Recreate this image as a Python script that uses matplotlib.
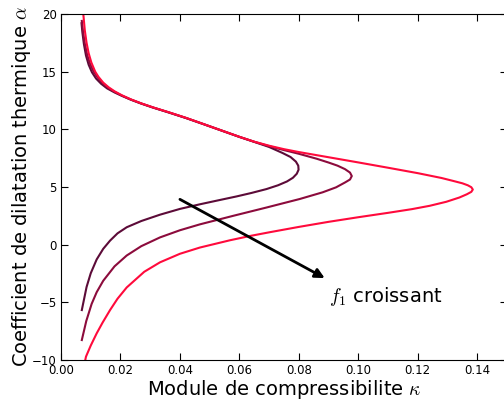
import matplotlib
matplotlib.use("Agg")
import matplotlib.pyplot as plt

plt.rcParams['mathtext.fontset'] = 'cm'
plt.rcParams['font.family'] = ['DejaVu Sans']

# curve 1 (darkest, smallest f1)
kappa_dark = [0.0069, 0.0072, 0.0077, 0.0084, 0.0093, 0.0104, 0.0118, 0.0135, 0.0155,
              0.0180, 0.0205, 0.0235, 0.0270, 0.0310, 0.0360, 0.0420, 0.0480, 0.0540,
              0.0600, 0.0650, 0.0700, 0.0745, 0.0772, 0.0790, 0.0798, 0.0799, 0.0793,
              0.0780, 0.0760, 0.0730, 0.0691, 0.0640, 0.0590, 0.0530, 0.0467, 0.0400,
              0.0333, 0.0270, 0.0221, 0.0190, 0.0165, 0.0142, 0.0120, 0.0100, 0.0086,
              0.0078, 0.0070]
alpha_dark = [19.2, 18.4, 17.4, 16.4, 15.6, 14.95, 14.4, 13.95, 13.55,
              13.2, 12.9, 12.57, 12.23, 11.88, 11.48, 10.98, 10.44, 9.89,
              9.34, 8.91, 8.47, 7.95, 7.6, 7.2, 6.85, 6.5, 6.15,
              5.8, 5.48, 5.15, 4.82, 4.48, 4.18, 3.85, 3.5, 3.1,
              2.6, 2.05, 1.51, 0.98, 0.35, -0.36, -1.28, -2.48, -3.67,
              -4.67, -5.67]

# curve 2 (medium)
kappa_med = [0.0070, 0.0074, 0.0080, 0.0088, 0.0098, 0.0110, 0.0124, 0.0140, 0.0158,
             0.0180, 0.0205, 0.0235, 0.0270, 0.0310, 0.0360, 0.0420, 0.0480, 0.0540,
             0.0600, 0.0650, 0.0700, 0.0750, 0.0800, 0.0860, 0.0900, 0.0930, 0.0955,
             0.0972, 0.0978, 0.0972, 0.0955, 0.0925, 0.0880, 0.0803, 0.0691, 0.0579,
             0.0467, 0.0400, 0.0333, 0.0270, 0.0221, 0.0180, 0.0142, 0.0120, 0.0103,
             0.0085, 0.0070]
alpha_med = [19.4, 18.5, 17.45, 16.45, 15.65, 15.0, 14.47, 14.0, 13.6,
             13.25, 12.92, 12.58, 12.24, 11.89, 11.49, 10.99, 10.45, 9.9,
             9.35, 8.92, 8.54, 8.2, 7.88, 7.45, 7.12, 6.85, 6.55,
             6.25, 5.95, 5.65, 5.39, 4.97, 4.54, 3.96, 3.22, 2.50,
             1.76, 1.25, 0.63, -0.13, -0.94, -1.88, -3.13, -4.12, -5.14,
             -6.62, -8.27]

# curve 3 (red, largest f1)
kappa_red = [0.0073, 0.0075, 0.0080, 0.0086, 0.0093, 0.0102, 0.0115, 0.0126, 0.0142,
             0.0160, 0.0180, 0.0205, 0.0235, 0.0270, 0.0310, 0.0360, 0.0420, 0.0480,
             0.0540, 0.0600, 0.0650, 0.0700, 0.0750, 0.0800, 0.0900, 0.1000, 0.1100,
             0.1200, 0.1280, 0.1320, 0.1350, 0.1368, 0.1380, 0.1385, 0.1380, 0.1365,
             0.1340, 0.1296, 0.1240, 0.1180, 0.1100, 0.1000, 0.0900, 0.0800, 0.0700,
             0.0635, 0.0568, 0.0467, 0.0400, 0.0333, 0.0280, 0.0221, 0.0190, 0.0165,
             0.0140, 0.0120, 0.0100, 0.0084, 0.0080]
alpha_red = [20.6, 20.0, 18.6, 17.5, 16.6, 15.8, 15.0, 14.55, 14.05,
             13.65, 13.3, 12.95, 12.6, 12.25, 11.9, 11.5, 11.0, 10.45,
             9.9, 9.35, 8.93, 8.58, 8.28, 8.03, 7.58, 7.13, 6.67,
             6.2, 5.78, 5.52, 5.32, 5.15, 4.98, 4.78, 4.58, 4.37,
             4.09, 3.72, 3.37, 3.08, 2.76, 2.38, 1.98, 1.54, 1.07,
             0.75, 0.38, -0.25, -0.79, -1.53, -2.35, -3.71, -4.69, -5.67,
             -6.75, -7.69, -8.75, -9.71, -10.2]

x_ticks = [0.00, 0.02, 0.04, 0.06, 0.08, 0.10, 0.12, 0.14]
x_tick_labels = ['0.00', '0.02', '0.04', '0.06', '0.08', '0.10', '0.12', '0.14']
y_ticks = [-10, -5, 0, 5, 10, 15, 20]
y_tick_labels = ['\u221210', '\u22125', '0', '5', '10', '15', '20']

colors = ['#5c0b38', '#8c0b3c', '#ff0a3c']

W, H = 504, 403
fig = plt.figure(figsize=(W / 100, H / 100), dpi=100)
left, right, top, bottom = 61, 507, 14, 360
ax = fig.add_axes([left / W, (H - bottom) / H, (right - left) / W, (bottom - top) / H])

ax.plot(kappa_dark, alpha_dark, color=colors[0], lw=1.5)
ax.plot(kappa_med, alpha_med, color=colors[1], lw=1.5)
ax.plot(kappa_red, alpha_red, color=colors[2], lw=1.5)

ax.set_xlim(0, 0.15)
ax.set_ylim(-10, 20)
ax.set_xticks(x_ticks)
ax.set_xticklabels(x_tick_labels)
ax.set_yticks(y_ticks)
ax.set_yticklabels(y_tick_labels)
ax.tick_params(direction='in', top=True, right=True, length=5, labelsize=8.5, pad=3)

ax.set_xlabel(r'Module de compressibilite $\kappa$', fontsize=14, labelpad=0.5)
ax.set_ylabel(r'Coefficient de dilatation thermique $\alpha$', fontsize=14, labelpad=-1)

ax.annotate('', xy=(0.0887, -2.9), xytext=(0.040, 3.93),
            arrowprops=dict(arrowstyle='-|>', lw=2, color='k', mutation_scale=14,
                            shrinkA=0, shrinkB=0))
ax.text(0.0900, -4.5, r'$f_1$ croissant', fontsize=14, va='center', ha='left')

fig.savefig('out.png', dpi=100)
